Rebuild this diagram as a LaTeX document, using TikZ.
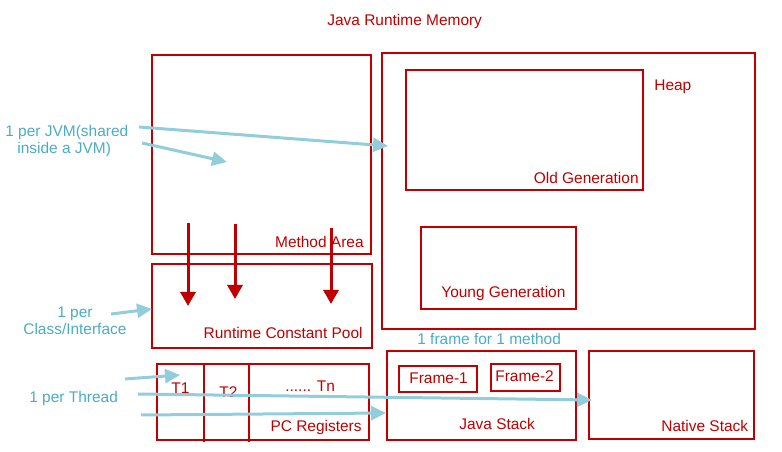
\documentclass[tikz,border=0pt]{standalone}
\usepackage{fontspec}
\setmainfont{Liberation Sans}
\usetikzlibrary{arrows.meta}
\usetikzlibrary{positioning}
\definecolor{memred}{RGB}{192,0,0}
\definecolor{notetext}{RGB}{75,172,198}
\definecolor{noteline}{RGB}{146,205,220}

\begin{document}
\begin{tikzpicture}[x=0.02cm,y=-0.02cm,
  box/.style={draw=memred,line width=0.04cm},
  lbl/.style={text=memred,inner sep=0,font=\fontsize{8.8}{10.5}\selectfont},
  note/.style={text=notetext,inner sep=0,font=\fontsize{8.8}{10.5}\selectfont},
  flow/.style={draw=memred,line width=0.06cm,-{Triangle[length=0.28cm,width=0.3cm]}},
  refer/.style={draw=noteline,line width=0.06cm,-{Triangle[length=0.3cm,width=0.28cm]}}]
\useasboundingbox (0,0) rectangle (782,452);

\node[lbl,anchor=base west] (title) at (327,26) {Java Runtime Memory};

% method area and constant pool
\draw[box] (152,55) rectangle (371,254);
\node[lbl,anchor=base east] (method) at (364,248) {Method Area};
\draw[box] (152,264) rectangle (372,348);
\node[lbl,anchor=base east] (pool) at (363,339) {Runtime Constant Pool};

% heap
\draw[box] (382,53) rectangle (755,329);
\node[lbl,anchor=base west] (heap) at (654,91) {Heap};
\draw[box] (406,70) rectangle (643,190);
\node[lbl,anchor=base east] (old) at (639,184) {Old Generation};
\draw[box] (421,227) rectangle (576,309);
\node[lbl,anchor=base west] (young) at (441,298) {Young Generation};

% pc registers
\draw[box] (157,364) rectangle (369,440);
\draw[box] (204,364) -- (204,442);
\draw[box] (249,364) -- (249,442);
\node[lbl,anchor=base west] (t1) at (171,394) {T1};
\node[lbl,anchor=base west] (t2) at (219,398) {T2};
\node[lbl,anchor=base west] (tn) at (285,392) {...... Tn};
\node[lbl,anchor=base east] (pc) at (362,432) {PC Registers};

% stacks
\node[note,anchor=base west] (frames) at (417,345) {1 frame for 1 method};
\draw[box] (387,351) rectangle (576,440);
\draw[box] (399,366) rectangle (477,392);
\node[lbl,anchor=base west] (f1) at (409,384) {Frame-1};
\draw[box] (491,364) rectangle (560,391);
\node[lbl,anchor=base west] (f2) at (495,382) {Frame-2};
\node[lbl,anchor=base west] (jstack) at (459,430) {Java Stack};
\draw[box] (589,351) rectangle (754,439);
\node[lbl,anchor=base west] (nstack) at (661,432) {Native Stack};

% notes on the left
\node[note,anchor=base west] (jvm) at (5,137) {1 per JVM(shared};
\node[note,anchor=base west] (jvm2) at (17,154) {inside a JVM)};
\node[note,anchor=base west] (cls) at (57,318) {1 per};
\node[note,anchor=base west] (cls2) at (23,335) {Class/Interface};
\node[note,anchor=base west] (thread) at (29,403) {1 per Thread};

\coordinate (jvmA) at (139,127);
\coordinate (heapIn) at (388,146);
\coordinate (jvmB) at (142,143);
\coordinate (methodIn) at (227,162);
\coordinate (clsA) at (111,314);
\coordinate (poolIn) at (152,309);
\coordinate (thrA) at (125,379);
\coordinate (t1In) at (180,375);
\coordinate (thrB) at (138,394);
\coordinate (nativeIn) at (592,400);
\coordinate (thrC) at (141,415);
\coordinate (javaIn) at (386,413);

\draw[refer] (jvmA) -- (heapIn);
\draw[refer] (jvmB) -- (methodIn);
\draw[refer] (clsA) -- (poolIn);
\draw[refer] (thrA) -- (t1In);
\draw[refer] (thrB) -- (nativeIn);
\draw[refer] (thrC) -- (javaIn);

\coordinate (m1) at (188,223);
\coordinate (p1) at (188,306);
\coordinate (m2) at (235,224);
\coordinate (p2) at (235,299);
\coordinate (m3) at (331,228);
\coordinate (p3) at (331,304);
\draw[flow] (m1) -- (p1);
\draw[flow] (m2) -- (p2);
\draw[flow] (m3) -- (p3);

\end{tikzpicture}
\end{document}
